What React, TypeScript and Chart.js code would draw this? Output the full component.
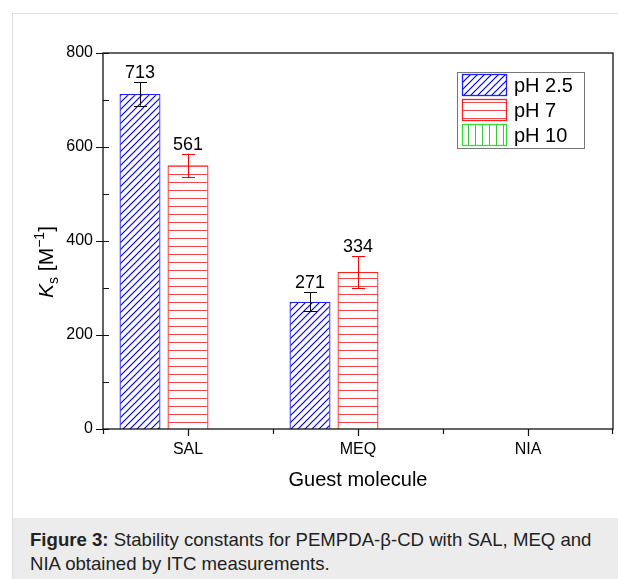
import React, { useEffect, useRef } from "react";
import { Chart, registerables } from "chart.js";
Chart.register(...registerables);

const categories = ["SAL", "MEQ", "NIA"];
const seriesLabels = ["pH 2.5", "pH 7", "pH 10"];
const ph25 = [713, 271, null];
const ph7 = [561, 334, null];
const ph10 = [null, null, null];
const ph25Err = [25, 20, null];
const ph7Err = [25, 34, null];
const yMajorTicks = [0, 200, 400, 600, 800];
const yMinorTicks = [100, 300, 500, 700];

const FONT = "'Liberation Sans', Arial, sans-serif";

function makePattern(kind: string, color: string) {
  const c = document.createElement("canvas");
  const s = kind === "diag" ? 7 : kind === "h" ? 8 : 7;
  c.width = s;
  c.height = s;
  const g = c.getContext("2d")!;
  g.fillStyle = "#ffffff";
  g.fillRect(0, 0, s, s);
  g.strokeStyle = color;
  g.lineWidth = kind === "diag" ? 1.2 : 1;
  g.beginPath();
  if (kind === "diag") {
    g.moveTo(-1, s + 1);
    g.lineTo(s + 1, -1);
    g.moveTo(-2, 2);
    g.lineTo(2, -2);
    g.moveTo(s - 2, s + 2);
    g.lineTo(s + 2, s - 2);
  } else if (kind === "h") {
    g.moveTo(0, 0.5);
    g.lineTo(s, 0.5);
  } else {
    g.moveTo(0.5, 0);
    g.lineTo(0.5, s);
  }
  g.stroke();
  return g.createPattern(c, "repeat");
}

const decorPlugin = {
  id: "decor",
  afterDraw(chart: any) {
    const { ctx, chartArea: a } = chart;
    const xs = chart.scales.x;
    const ys = chart.scales.y;
    ctx.save();
    // frame
    ctx.strokeStyle = "#111";
    ctx.lineWidth = 1.3;
    ctx.strokeRect(a.left, a.top, a.right - a.left, a.bottom - a.top);
    ctx.lineWidth = 1.2;
    ctx.beginPath();
    yMajorTicks.forEach((v) => {
      const y = Math.round(ys.getPixelForValue(v)) + 0.5;
      ctx.moveTo(a.left - 7, y);
      ctx.lineTo(a.left + 6, y);
    });
    yMinorTicks.forEach((v) => {
      const y = Math.round(ys.getPixelForValue(v)) + 0.5;
      ctx.moveTo(a.left, y);
      ctx.lineTo(a.left + 6, y);
    });
    const half = (xs.getPixelForValue(1) - xs.getPixelForValue(0)) / 2;
    categories.forEach((_, i) => {
      const x = Math.round(xs.getPixelForValue(i)) + 0.5;
      ctx.moveTo(x, a.bottom);
      ctx.lineTo(x, a.bottom + 7);
      const b1 = Math.round(xs.getPixelForValue(i) - half) + 0.5;
      ctx.moveTo(b1, a.bottom);
      ctx.lineTo(b1, a.bottom + 5);
      if (i === categories.length - 1) {
        const b2 = Math.round(xs.getPixelForValue(i) + half) - 0.5;
        ctx.moveTo(b2, a.bottom);
        ctx.lineTo(b2, a.bottom + 5);
      }
    });
    ctx.stroke();

    // error bars and value labels
    const errs = [ph25Err, ph7Err, null];
    const errColors = ["#000000", "#ff0000", "#00cc00"];
    chart.data.datasets.forEach((ds: any, di: number) => {
      const meta = chart.getDatasetMeta(di);
      const e = errs[di];
      meta.data.forEach((bar: any, i: number) => {
        const v = ds.data[i];
        if (v == null) return;
        const err = e ? e[i] || 0 : 0;
        const x = Math.round(bar.x) + 0.5;
        const yt = ys.getPixelForValue(v + err);
        const yb = ys.getPixelForValue(v - err);
        ctx.strokeStyle = errColors[di];
        ctx.lineWidth = 1;
        ctx.beginPath();
        ctx.moveTo(x, yt);
        ctx.lineTo(x, yb);
        ctx.moveTo(x - 6.5, Math.round(yt) + 0.5);
        ctx.lineTo(x + 6.5, Math.round(yt) + 0.5);
        ctx.moveTo(x - 6.5, Math.round(yb) + 0.5);
        ctx.lineTo(x + 6.5, Math.round(yb) + 0.5);
        ctx.stroke();
        ctx.fillStyle = "#000";
        ctx.font = `18px ${FONT}`;
        ctx.textAlign = "center";
        ctx.textBaseline = "alphabetic";
        ctx.fillText(String(v), bar.x, yt - 4);
      });
    });

    // legend
    const bx = a.right - 29 - 127;
    const by = a.top + 19;
    ctx.strokeStyle = "#777";
    ctx.lineWidth = 1;
    ctx.fillStyle = "#fff";
    ctx.fillRect(bx + 0.5, by + 0.5, 127, 76);
    ctx.strokeRect(bx + 0.5, by + 0.5, 127, 76);
    chart.data.datasets.forEach((ds: any, di: number) => {
      const sx = bx + 5;
      const sy = by + 2 + di * 25;
      ctx.fillStyle = ds.backgroundColor;
      ctx.fillRect(sx, sy, 45, 22);
      ctx.strokeStyle = ds.borderColor;
      ctx.lineWidth = 1.3;
      ctx.strokeRect(sx + 0.5, sy + 0.5, 44, 21);
      ctx.fillStyle = "#000";
      ctx.font = `20px ${FONT}`;
      ctx.textAlign = "left";
      ctx.textBaseline = "middle";
      ctx.fillText(ds.label, bx + 57, sy + 12);
    });

    // y axis title: K_s [M^-1]
    ctx.translate(40, 248);
    ctx.rotate(-Math.PI / 2);
    ctx.fillStyle = "#000";
    ctx.textBaseline = "alphabetic";
    ctx.textAlign = "left";
    const big = `21px ${FONT}`;
    const bigI = `italic 21px ${FONT}`;
    const small = `14px ${FONT}`;
    const parts: [string, string, number][] = [
      ["K", bigI, 0],
      ["s", small, 5],
      [" [M", big, 0],
      ["\u22121", small, -9],
      ["]", big, 0],
    ];
    let total = 0;
    parts.forEach(([t, f]) => {
      ctx.font = f;
      total += ctx.measureText(t).width;
    });
    let cx = -total / 2;
    parts.forEach(([t, f, dy]) => {
      ctx.font = f;
      ctx.fillText(t, cx, dy);
      cx += ctx.measureText(t).width;
    });
    ctx.restore();
  },
};

export default function App() {
  const ref = useRef<HTMLCanvasElement>(null);
  useEffect(() => {
    const blue = makePattern("diag", "#0000ff");
    const red = makePattern("h", "#f04848");
    const green = makePattern("v", "#3cc83c");
    const chart = new Chart(ref.current!, {
      type: "bar",
      data: {
        labels: categories,
        datasets: [
          { label: seriesLabels[0], data: ph25, backgroundColor: blue as any, borderColor: "#2020ff", borderWidth: 1.3 },
          { label: seriesLabels[1], data: ph7, backgroundColor: red as any, borderColor: "#ff2020", borderWidth: 1.3 },
          { label: seriesLabels[2], data: ph10, backgroundColor: green as any, borderColor: "#33dd33", borderWidth: 1.3 },
        ],
      },
      options: {
        responsive: false,
        animation: false,
        devicePixelRatio: 1,
        categoryPercentage: 0.847,
        barPercentage: 0.854,
        layout: { padding: { left: 0, right: 5, top: 39, bottom: 0 } },
        plugins: { legend: { display: false }, tooltip: { enabled: false } },
        scales: {
          x: {
            grid: { display: false, drawTicks: false },
            border: { display: false },
            ticks: { color: "#000", font: { family: FONT, size: 16 }, padding: 11 },
            title: {
              display: true,
              text: "Guest molecule",
              color: "#000",
              font: { family: FONT, size: 20 },
              padding: { top: 0, bottom: 26 },
            },
            afterFit: (s: any) => {
              s.height = 89;
            },
          },
          y: {
            min: 0,
            max: 800,
            grid: { display: false, drawTicks: false },
            border: { display: false },
            ticks: { stepSize: 200, color: "#000", font: { family: FONT, size: 16 }, padding: 10 },
            afterFit: (s: any) => {
              s.width = 90;
            },
          },
        },
      },
      plugins: [decorPlugin],
    });
    return () => chart.destroy();
  }, []);

  return (
    <div style={{ position: "absolute", left: 0, top: 0, width: 618, height: 579, background: "#fff", overflow: "hidden" }}>
      <div
        style={{
          position: "absolute",
          left: 12,
          top: 13,
          width: 700,
          height: 700,
          border: "1px solid #dedede",
          boxSizing: "border-box",
        }}
      />
      <canvas ref={ref} width={605} height={504} style={{ position: "absolute", left: 13, top: 14, width: 605, height: 504 }} />
      <div
        style={{
          position: "absolute",
          left: 13,
          top: 518,
          width: 605,
          height: 61,
          background: "#ececec",
          boxSizing: "border-box",
          paddingTop: 10,
          paddingLeft: 17,
          fontFamily: FONT,
          fontSize: 18.6,
          lineHeight: "24px",
          color: "#222",
          whiteSpace: "nowrap",
        }}
      >
        <b>Figure 3:</b> Stability constants for PEMPDA-β-CD with SAL, MEQ and
        <br />
        NIA obtained by ITC measurements.
      </div>
    </div>
  );
}
